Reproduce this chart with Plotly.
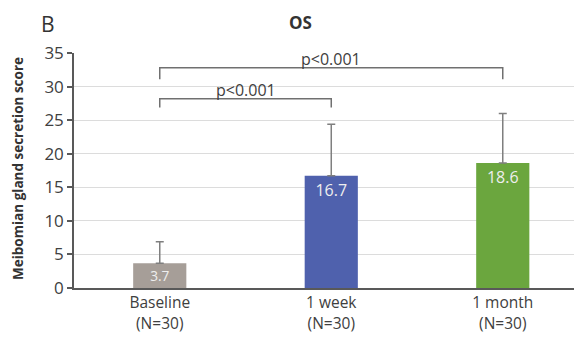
import plotly.graph_objects as go

categories = ["Baseline<br>(N=30)", "1 week<br>(N=30)", "1 month<br>(N=30)"]
means = [3.7, 16.7, 18.6]
sd_upper = [3.2, 7.7, 7.4]
bar_colors = ["#a69e98", "#4f61ad", "#6ba63e"]
value_labels = ["3.7", "16.7", "18.6"]
y_ticks = [0, 5, 10, 15, 20, 25, 30, 35]

# significance brackets: (start index, end index, bracket height, drop height, label)
brackets = [
    (0, 1, 28.2, 26.9, "p<0.001"),
    (0, 2, 32.8, 31.1, "p<0.001"),
]

FONT = "Open Sans"
OFF = 8  # page body margin in the browser
W, H = 582 - OFF, 343 - OFF
ML, MR, MT, MB = 74 - OFF, 0, 53 - OFF, 55
plot_w = W - ML - MR
plot_h = H - MT - MB

fig = go.Figure()
fig.add_trace(go.Bar(
    x=list(range(len(categories))),
    y=means,
    width=0.31,
    marker=dict(color=bar_colors, line=dict(width=0)),
    text=value_labels,
    textposition="inside",
    insidetextanchor="end",
    textfont=dict(color="#eeeeee", size=16, family=FONT),
    error_y=dict(type="data", symmetric=False, array=sd_upper,
                 arrayminus=[0] * len(means), color="#7f7f7f",
                 thickness=1.5, width=4),
    hoverinfo="skip",
))

for (a, b, h, d, lab) in brackets:
    fig.add_shape(type="path",
                  path=f"M {a},{d} L {a},{h} L {b},{h} L {b},{d}",
                  xref="x", yref="y",
                  line=dict(color="#707070", width=1.5))
    fig.add_annotation(x=(a + b) / 2, y=h, text=lab, showarrow=False,
                       xref="x", yref="y",
                       yanchor="bottom", yshift=-4,
                       font=dict(size=16, color="#404040", family=FONT))

def px_annot(xp, yp, text, size, color="#333333", angle=0, yanchor="middle"):
    # xp, yp in window pixel coordinates
    fx, fy = xp - OFF, yp - OFF
    fig.add_annotation(x=(fx - ML) / plot_w, y=(H - MB - fy) / plot_h,
                       xref="paper", yref="paper", text=text, showarrow=False,
                       xanchor="center", yanchor=yanchor, textangle=angle,
                       font=dict(size=size, color=color, family=FONT))

px_annot(48, OFF, "B", 21, yanchor="top")
px_annot(300, OFF + 1, "<b>OS</b>", 17, yanchor="top")
px_annot(18, 169, "<b>Meibomian gland secretion score</b>", 13.5, angle=-90)

fig.update_layout(
    width=W, height=H,
    margin=dict(l=ML, r=MR, t=MT, b=MB, autoexpand=False),
    paper_bgcolor="white", plot_bgcolor="white",
    showlegend=False,
    font=dict(family=FONT, color="#404040"),
)

fig.update_xaxes(
    range=[-0.5, 2.462], automargin=False,
    tickmode="array", tickvals=list(range(len(categories))), ticktext=categories,
    showgrid=False, zeroline=False,
    showline=True, linecolor="#595959", linewidth=1.5,
    ticks="", tickfont=dict(size=15.5, color="#404040"),
)
# boundary ticks between categories
for xb in [0.5, 1.5]:
    fig.add_shape(type="line", x0=xb, x1=xb, y0=0, y1=-0.8, xref="x", yref="y",
                  line=dict(color="#595959", width=1.5))

fig.update_yaxes(
    range=[0, 35], tickvals=y_ticks, automargin=False,
    showgrid=True, gridcolor="#dcdcdc", gridwidth=1,
    zeroline=False,
    showline=True, linecolor="#595959", linewidth=1.5,
    ticks="outside", ticklen=5, tickcolor="#595959", tickwidth=1.5,
    tickfont=dict(size=17, color="#404040"),
)

fig.write_html("out.html")
